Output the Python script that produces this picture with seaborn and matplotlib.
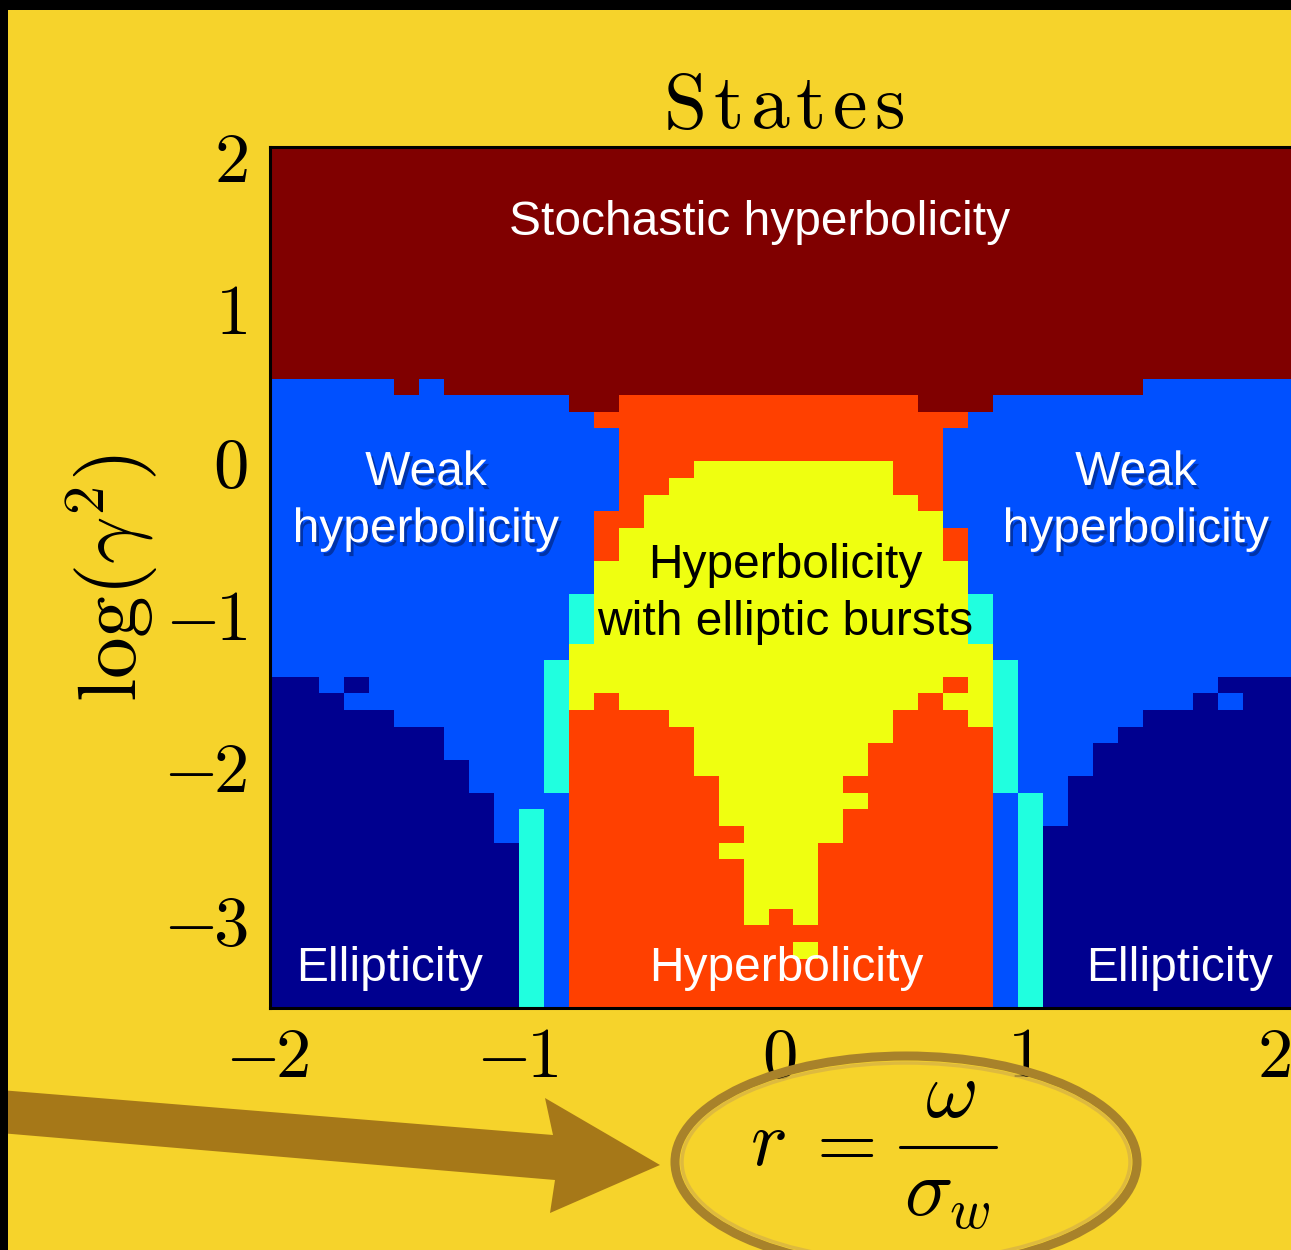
import numpy as np
import matplotlib
matplotlib.use("Agg")
import matplotlib.pyplot as plt
import seaborn as sns
from matplotlib.colors import ListedColormap
from matplotlib.patches import Rectangle, Ellipse, Polygon
from matplotlib.lines import Line2D
from matplotlib.transforms import ScaledTranslation
import matplotlib.patheffects as pe

# ---------------- data ----------------
# state codes: D=ellipticity, B=weak hyperbolicity, C=transition, Y=hyperbolicity with elliptic bursts,
# O=hyperbolicity, R=stochastic hyperbolicity ; rows listed top (high log gamma^2) to bottom
state_codes = {"D": 0, "B": 1, "C": 2, "Y": 3, "O": 4, "R": 5}
state_colors = ["#00008F", "#0050FF", "#20FFDF", "#EFFF10", "#FF4000", "#800000"]

r_values = [round(v, 1) for v in np.arange(-2.0, 2.05, 0.1)]   # 41 column centres
log_step = np.log10(np.e) / 4.0                                   # row height in log(gamma^2)
rows_above_zero = 19

state_rows = [
    "RRRRRRRRRRRRRRRRRRRRRRRRRRRRRRRRRRRRRRRRR",
    "RRRRRRRRRRRRRRRRRRRRRRRRRRRRRRRRRRRRRRRRR",
    "RRRRRRRRRRRRRRRRRRRRRRRRRRRRRRRRRRRRRRRRR",
    "RRRRRRRRRRRRRRRRRRRRRRRRRRRRRRRRRRRRRRRRR",
    "RRRRRRRRRRRRRRRRRRRRRRRRRRRRRRRRRRRRRRRRR",
    "RRRRRRRRRRRRRRRRRRRRRRRRRRRRRRRRRRRRRRRRR",
    "RRRRRRRRRRRRRRRRRRRRRRRRRRRRRRRRRRRRRRRRR",
    "RRRRRRRRRRRRRRRRRRRRRRRRRRRRRRRRRRRRRRRRR",
    "RRRRRRRRRRRRRRRRRRRRRRRRRRRRRRRRRRRRRRRRR",
    "RRRRRRRRRRRRRRRRRRRRRRRRRRRRRRRRRRRRRRRRR",
    "RRRRRRRRRRRRRRRRRRRRRRRRRRRRRRRRRRRRRRRRR",
    "RRRRRRRRRRRRRRRRRRRRRRRRRRRRRRRRRRRRRRRRR",
    "RRRRRRRRRRRRRRRRRRRRRRRRRRRRRRRRRRRRRRRRR",
    "RRRRRRRRRRRRRRRRRRRRRRRRRRRRRRRRRRRRRRRRR",
    "BBBBBRBRRRRRRRRRRRRRRRRRRRRRRRRRRRRBBBBBB",  # 14
    "BBBBBBBBBBBBRROOOOOOOOOOOORRRBBBBBBBBBBBB",  # 15
    "BBBBBBBBBBBBBOOOOOOOOOOOOOOOBBBBBBBBBBBBB",  # 16
    "BBBBBBBBBBBBBBOOOOOOOOOOOOOBBBBBBBBBBBBBB",  # 17
    "BBBBBBBBBBBBBBOOOOOOOOOOOOOBBBBBBBBBBBBBB",  # 18
    "BBBBBBBBBBBBBBOOOYYYYYYYYOOBBBBBBBBBBBBBB",  # 19
    "BBBBBBBBBBBBBBOOYYYYYYYYYOOBBBBBBBBBBBBBB",  # 20
    "BBBBBBBBBBBBBBOYYYYYYYYYYYOBBBBBBBBBBBBBB",  # 21
    "BBBBBBBBBBBBBOOYYYYYYYYYYYYBBBBBBBBBBBBBB",  # 22
    "BBBBBBBBBBBBBOYYYYYYYYYYYYYOBBBBBBBBBBBBB",  # 23
    "BBBBBBBBBBBBBOYYYYYYYYYYYYYOBBBBBBBBBBBBB",  # 24
    "BBBBBBBBBBBBBYYYYYYYYYYYYYYYBBBBBBBBBBBBB",  # 25
    "BBBBBBBBBBBBBYYYYYYYYYYYYYYYBBBBBBBBBBBBB",  # 26
    "BBBBBBBBBBBBCYYYYYYYYYYYYYYYCBBBBBBBBBBBB",  # 27
    "BBBBBBBBBBBBCYYYYYYYYYYYYYYYCBBBBBBBBBBBB",  # 28
    "BBBBBBBBBBBBCYYYYYYYYYYYYYYYCBBBBBBBBBBBB",  # 29
    "BBBBBBBBBBBBYYYYYYYYYYYYYYYYYBBBBBBBBBBBB",  # 30
    "BBBBBBBBBBBCYYYYYYYYYYYYYYYYYCBBBBBBBBBBB",  # 31
    "DDBDBBBBBBBCYYYYYYYYYYYYYYYOYCBBBBBBBBDDD",  # 32
    "DDDBBBBBBBBCYOYYYYYYYYYYYYOYYCBBBBBBBDBDD",  # 33
    "DDDDDBBBBBBCOOOOYYYYYYYYYOOOYCBBBBBDDDDDD",  # 34
    "DDDDDDDBBBBCOOOOOYYYYYYYYOOOOCBBBBDDDDDDD",  # 35
    "DDDDDDDBBBBCOOOOOYYYYYYYOOOOOCBBBDDDDDDDD",  # 36
    "DDDDDDDDBBBCOOOOOYYYYYYYOOOOOCBBBDDDDDDDD",  # 37
    "DDDDDDDDBBBCOOOOOOYYYYYOOOOOOCBBDDDDDDDDD",  # 38
    "DDDDDDDDDBBBOOOOOOYYYYYYOOOOOBCBDDDDDDDDD",  # 39
    "DDDDDDDDDBCBOOOOOOYYYYYOOOOOOBCBDDDDDDDDD",  # 40
    "DDDDDDDDDBCBOOOOOOOYYYYOOOOOOBCDDDDDDDDDD",  # 41
    "DDDDDDDDDDCBOOOOOOYYYYOOOOOOOBCDDDDDDDDDD",  # 42
    "DDDDDDDDDDCBOOOOOOOYYYOOOOOOOBCDDDDDDDDDD",  # 43
    "DDDDDDDDDDCBOOOOOOOYYYOOOOOOOBCDDDDDDDDDD",  # 44
    "DDDDDDDDDDCBOOOOOOOYYYOOOOOOOBCDDDDDDDDDD",  # 45
    "DDDDDDDDDDCBOOOOOOOYOYOOOOOOOBCDDDDDDDDDD",  # 46
    "DDDDDDDDDDCBOOOOOOOOOOOOOOOOOBCDDDDDDDDDD",  # 47
    "DDDDDDDDDDCBOOOOOOOOOYOOOOOOOBCDDDDDDDDDD",  # 48
    "DDDDDDDDDDCBOOOOOOOOOOOOOOOOOBCDDDDDDDDDD",  # 49
    "DDDDDDDDDDCBOOOOOOOOOOOOOOOOOBCDDDDDDDDDD",  # 50
    "DDDDDDDDDDCBOOOOOOOOOOOOOOOOOBCDDDDDDDDDD",  # 51
]

x_tick_values = [-2, -1, 0, 1, 2]
x_tick_labels = [r"$-\hspace{-0.08}2$", r"$-\hspace{-0.08}1$", r"$0$", r"$1$", r"$2$"]
y_tick_values = [2, 1, 0, -1, -2, -3]
y_tick_labels = [r"$2$", r"$1$", r"$0$", r"$-\hspace{-0.08}1$", r"$-\hspace{-0.08}2$", r"$-\hspace{-0.08}3$"]

# ---------------- figure ----------------
BG = "#F6D32B"
W, H = 1291, 1250
sns.set_theme(style="white")
plt.rcParams["mathtext.fontset"] = "cm"
plt.rcParams["font.family"] = ["Liberation Sans", "DejaVu Sans"]

fig = plt.figure(figsize=(W / 100, H / 100), dpi=100, facecolor=BG)


def fx(px):
    return px / W


def fy(py):
    return 1 - py / H


ax_left, ax_right, ax_top, ax_bot = 269.5, 1292.5, 146.5, 1008.3
ax = fig.add_axes([fx(ax_left), fy(ax_bot), (ax_right - ax_left) / W, (ax_bot - ax_top) / H])

grid = np.array([[state_codes[c] for c in row] for row in state_rows])
sns.heatmap(grid, cmap=ListedColormap(state_colors), vmin=-0.5, vmax=5.5,
            cbar=False, ax=ax, xticklabels=False, yticklabels=False, linewidths=0)

# map data values to heatmap cell coordinates
x_edge0 = r_values[0] - 0.05
xt = [(v - x_edge0) / 0.1 for v in x_tick_values]
y_top = rows_above_zero * log_step
yt = [(y_top - v) / log_step for v in y_tick_values]
ax.set_xticks(xt)
ax.set_xticklabels(x_tick_labels, fontsize=51)
ax.set_yticks(yt)
ax.set_yticklabels(y_tick_labels, fontsize=51)
ax.tick_params(direction="in", length=7, width=1.6, top=True, right=True,
               bottom=True, left=True, colors="black")
ax.tick_params(axis="x", pad=13)
ax.tick_params(axis="y", pad=16)
x_shift_px = [-15, -15, -2, -8, -6]
for lbl, dx in zip(ax.get_xticklabels(), x_shift_px):
    lbl.set_transform(lbl.get_transform() + ScaledTranslation(dx / 100, 0, fig.dpi_scale_trans))
for s in ax.spines.values():
    s.set_visible(True)
    s.set_color("black")
    s.set_linewidth(2.2)

# ---------------- region labels ----------------
lab = dict(fontsize=34.5, ha="center", va="baseline")
shadow = [pe.withSimplePatchShadow(offset=(2, -3), shadow_rgbFace="#001040", alpha=0.45)]
fig.text(fx(760), fy(235), "Stochastic hyperbolicity", color="white", **lab)
for cx in (426, 1136):
    fig.text(fx(cx), fy(485), "Weak", color="white", path_effects=shadow, **lab)
    fig.text(fx(cx), fy(542), "hyperbolicity", color="white", path_effects=shadow, **lab)
fig.text(fx(785), fy(578), "Hyperbolicity", color="black", **lab)
fig.text(fx(785), fy(635), "with elliptic bursts", color="black", **lab)
fig.text(fx(390), fy(981), "Ellipticity", color="white", **lab)
fig.text(fx(1180), fy(981), "Ellipticity", color="white", **lab)
fig.text(fx(786), fy(981), "Hyperbolicity", color="white", **lab)

# title and axis labels
fig.text(fx(784), fy(128), r"$\mathrm{S\hspace{0.1}t\hspace{0.1}a\hspace{0.1}t\hspace{0.1}e\hspace{0.1}s}$",
         fontsize=56, ha="center", va="baseline", color="black")
fig.text(fx(112), fy(578), r"$\log(\gamma^2)$", fontsize=60, rotation=90,
         ha="center", va="center", color="black")

# ---------------- decoration: ellipse, arrow, frame ----------------
fig.patches.append(Ellipse((fx(906), fy(1162)), 462 / W, 212 / H, transform=fig.transFigure,
                           fill=False, edgecolor="#A8822A", linewidth=6.5, zorder=3))
fig.patches.append(Ellipse((fx(906), fy(1162)), 448 / W, 198 / H, transform=fig.transFigure,
                           fill=False, edgecolor="#D9B443", linewidth=2.5, alpha=0.8, zorder=3))
# x label  r = omega / sigma_w
fig.text(fx(750), fy(1165), r"$r$", fontsize=56, ha="left", va="baseline", color="black", zorder=4)
fig.text(fx(839), fy(1165), r"$=$", fontsize=56, ha="center", va="baseline", color="black", zorder=4)
fig.text(fx(950), fy(1117), r"$\omega$", fontsize=58, ha="center", va="baseline", color="black", zorder=4)
fig.text(fx(947), fy(1215), r"$\sigma_w$", fontsize=58, ha="center", va="baseline", color="black", zorder=4)
fig.lines.append(Line2D([fx(900), fx(996)], [fy(1147), fy(1147)], transform=fig.transFigure,
                        color="black", linewidth=2.2, zorder=4))
arrow_px = [(0, 1090), (553, 1135), (545, 1098), (660, 1165), (550, 1213), (555, 1180), (0, 1133)]
fig.patches.append(Polygon([(fx(a), fy(b)) for a, b in arrow_px], closed=True,
                           transform=fig.transFigure, facecolor="#A67818", edgecolor="none", zorder=5))
fig.patches.append(Rectangle((0, fy(10)), 1, 10 / H, transform=fig.transFigure,
                             facecolor="black", edgecolor="none", zorder=6))
fig.patches.append(Rectangle((0, 0), 8 / W, 1, transform=fig.transFigure,
                             facecolor="black", edgecolor="none", zorder=6))

fig.savefig("out.png", dpi=100, facecolor=BG)
